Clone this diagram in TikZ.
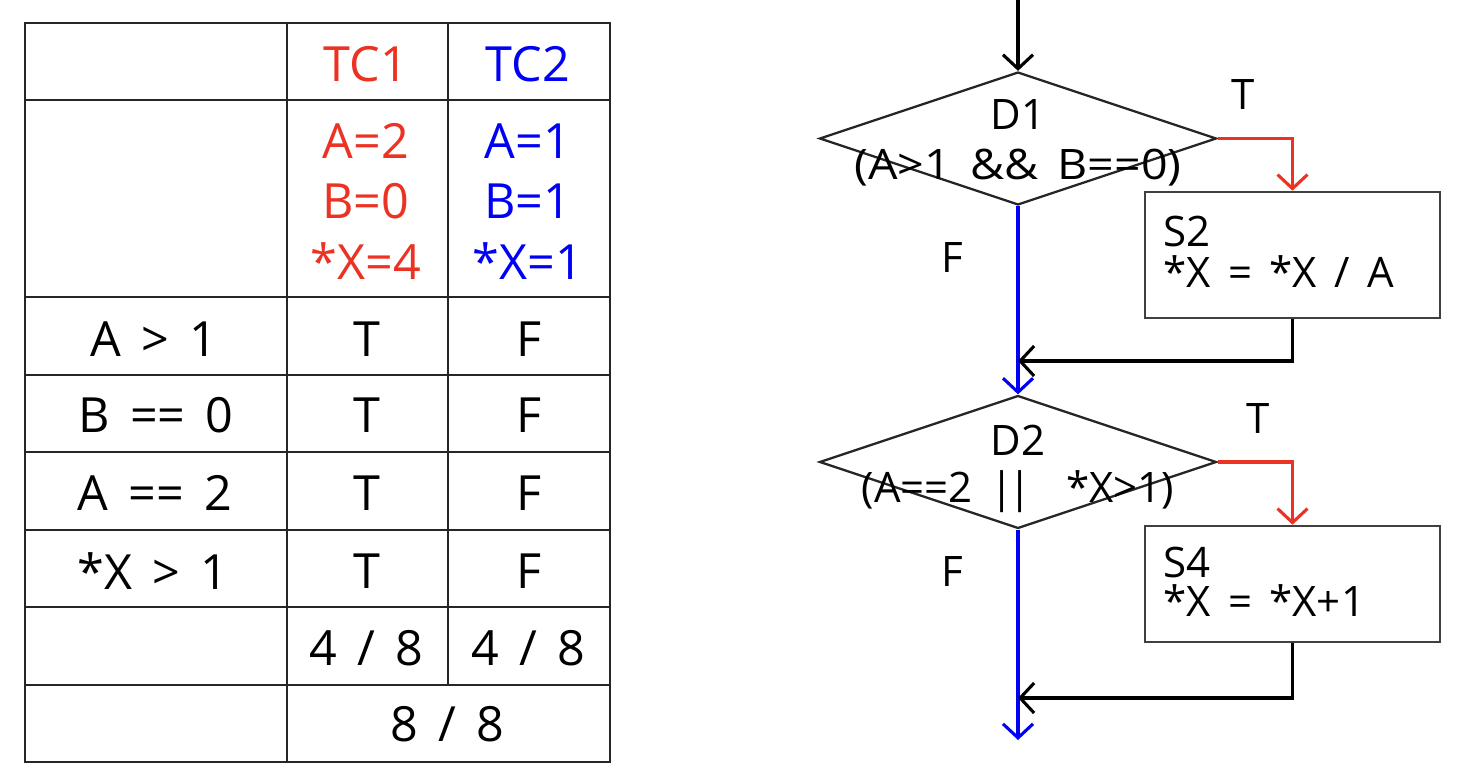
\documentclass[tikz,border=0pt]{standalone}
\usepackage{fontspec}
\usepackage{graphicx}
\setmainfont{Open Sans}[WordSpace=1.6]
\usetikzlibrary{shapes.geometric,arrows.meta}
\definecolor{tcred}{RGB}{235,50,35}
\definecolor{tcblue}{RGB}{0,0,245}
\begin{document}
\begin{tikzpicture}[x=1pt,y=-1pt,
  grid/.style={line width=2.8pt,black!85},
  ttxt/.style={font=\fontsize{48.5}{56}\selectfont,inner sep=0pt,anchor=center},
  ftxt/.style={font=\fontsize{42}{46}\selectfont,inner sep=0pt},
  flow/.style={line width=3.1pt,-{Straight Barb[length=14pt,width=30pt,line width=3.1pt]}},
  dia/.style={diamond,draw,line width=2.3pt,black!85,inner sep=0pt,minimum width=397pt,minimum height=133pt},
  stmt/.style={draw,line width=2.6pt,black!75,inner sep=0pt,minimum width=295pt},
]
\useasboundingbox (0,0) rectangle (1458,776);
% ---- table ----
\draw[grid] (25,23) rectangle (610,762);
\foreach \y in {100,297,375,452,530,607,685} \draw[grid] (25,\y) -- (610,\y);
\draw[grid] (287,23) -- (287,762);
\draw[grid] (448,23) -- (448,685);
\node[ttxt,tcred] (tc1) at (366,64) {TC1};
\node[ttxt,tcblue] (tc2) at (528,64) {TC2};
\node[ttxt,tcred] (v1a) at (366,141) {A=2};
\node[ttxt,tcred] (v1b) at (366,201) {B=0};
\node[ttxt,tcred] (v1c) at (366,261) {*X=4};
\node[ttxt,tcblue] (v2a) at (528,141) {A=1};
\node[ttxt,tcblue] (v2b) at (528,201) {B=1};
\node[ttxt,tcblue] (v2c) at (528,261) {*X=1};
\node[ttxt] (c1) at (154,339) {A > 1};
\node[ttxt] (c2) at (156,415) {B == 0};
\node[ttxt] (c3) at (155,493) {A == 2};
\node[ttxt] (c4) at (153,571) {*X > 1};
\foreach \y/\n in {339/1,415/2,493/3,571/4} {
  \node[ttxt] (t\n) at (367,\y) {T};
  \node[ttxt] (f\n) at (529,\y) {F};
}
\node[ttxt] (s1) at (366,648) {4 / 8};
\node[ttxt] (s2) at (528,648) {4 / 8};
\node[ttxt] (tot) at (447,724) {8 / 8};
% ---- flowchart ----
\coordinate (start) at (1018,0);
\node[dia] (d1) at (1018,138.5) {};
\node[ftxt] (d1t) at (1018,115) {D1};
\node[ftxt] (d1c) at (1018,168) {\scalebox{1.11}[1]{(A>1 \&\& B==0)}};
\node[stmt,minimum height=126pt] (s2b) at (1292.5,255) {};
\node[ftxt,anchor=west] (s2l1) at (1163,231) {S2};
\node[ftxt,anchor=west] (s2l2) at (1163,272) {*X = *X / A};
\node[ftxt] (T1) at (1243,95) {T};
\node[ftxt] (F1) at (952,258) {F};
\coordinate (j1) at (1018,361);
\node[dia] (d2) at (1018,462) {};
\node[ftxt] (d2t) at (1018,440) {D2};
\node[ftxt] (d2c) at (1018,492) {(A==2 |\kern-0.12em| \ *X>1)};
\node[stmt,minimum height=116pt] (s4b) at (1292.5,584) {};
\node[ftxt,anchor=west] (s4l1) at (1163,562) {S4};
\node[ftxt,anchor=west] (s4l2) at (1163,601) {*X = *X+1};
\node[ftxt] (T2) at (1258,419) {T};
\node[ftxt] (F2) at (952,572) {F};
\coordinate (j2) at (1018,698);
\coordinate (end) at (1018,740);
\draw[flow] (start) -- (d1.north);
\draw[flow,tcred] (d1.east) -| (s2b.north);
\draw[flow,tcblue] (d1.south) -- (d2.north);
\draw[flow] (s2b.south) |- (j1);
\draw[flow,tcred] (d2.east) -| (s4b.north);
\draw[flow,tcblue] (d2.south) -- (end);
\draw[flow] (s4b.south) |- (j2);
\end{tikzpicture}
\end{document}
